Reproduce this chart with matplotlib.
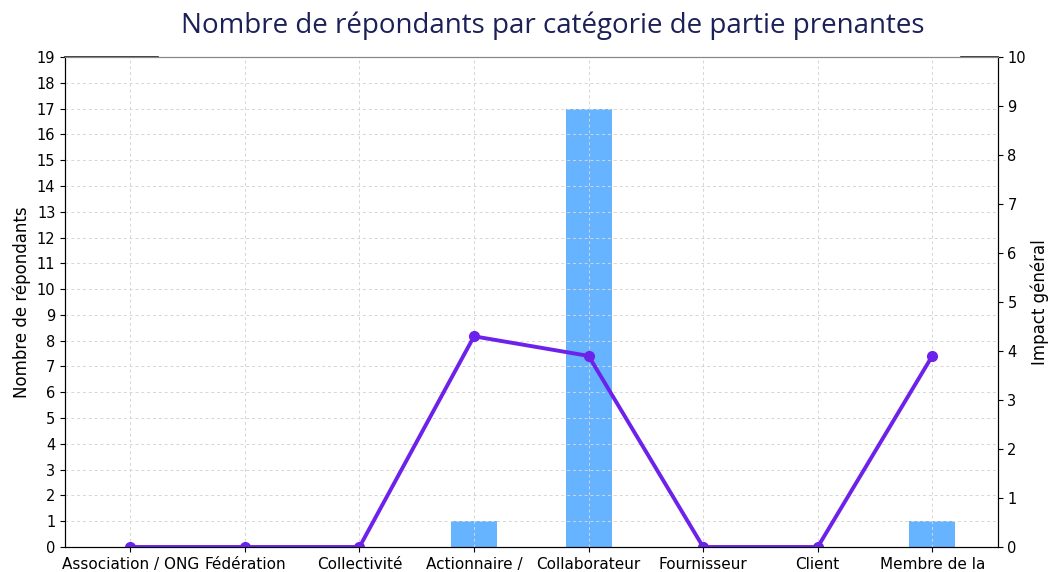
#!/usr/bin/env python3
# -*- coding: utf-8 -*-

import matplotlib
matplotlib.use("Agg")
import matplotlib.pyplot as plt


categories = ["Association / ONG", "Fédération", "Collectivité", "Actionnaire /",
              "Collaborateur", "Fournisseur", "Client", "Membre de la"]
respondents = [0, 0, 0, 1, 17, 0, 0, 1]
impact = [0, 0, 0, 4.3, 3.9, 0, 0, 3.9]

barColor = "#66b3ff"
lineColor = "#6c22ea"
titleColor = "#1b2158"

fig = plt.figure(figsize=(10.49, 5.72), dpi=100)
ax = fig.add_axes([0.062, 0.0437, 0.889, 0.8566])
ax2 = ax.twinx()

x = list(range(len(categories)))
ax.bar(x, respondents, width=0.4, color=barColor)
ax.set_axisbelow(False)
ax.grid(True, linestyle=(0, (3, 3)), color="#d5d5d5", linewidth=0.7)

ax.set_ylim(0, 19)
ax.set_yticks(range(0, 20))
ax.set_xticks(x)
ax.set_xticklabels(categories, fontsize=11)
ax.tick_params(axis="y", labelsize=10.5)
ax.set_ylabel("Nombre de répondants", fontsize=12)

ax2.plot(x, impact, color=lineColor, linewidth=2.8, marker="o", markersize=7)
ax2.set_ylim(0, 10)
ax2.set_yticks(range(0, 11))
ax2.tick_params(axis="y", labelsize=10.5)
ax2.set_ylabel("Impact général", fontsize=12, labelpad=3)

for a in (ax, ax2):
    a.spines["top"].set_color("#888888")
    a.spines["top"].set_linewidth(0.8)

# short dark segments at both ends of the top edge
ax2.plot([0, 0.1], [1, 1], transform=ax2.transAxes, color="#222222", lw=1.2, clip_on=False)
ax2.plot([0.961, 1.0], [1, 1], transform=ax2.transAxes, color="#222222", lw=1.2, clip_on=False)

fig.text(0.527, 0.955, "Nombre de répondants par catégorie de partie prenantes",
         ha="center", va="center", fontsize=20, color=titleColor, family="Open Sans")

fig.savefig("out.png", dpi=100)
